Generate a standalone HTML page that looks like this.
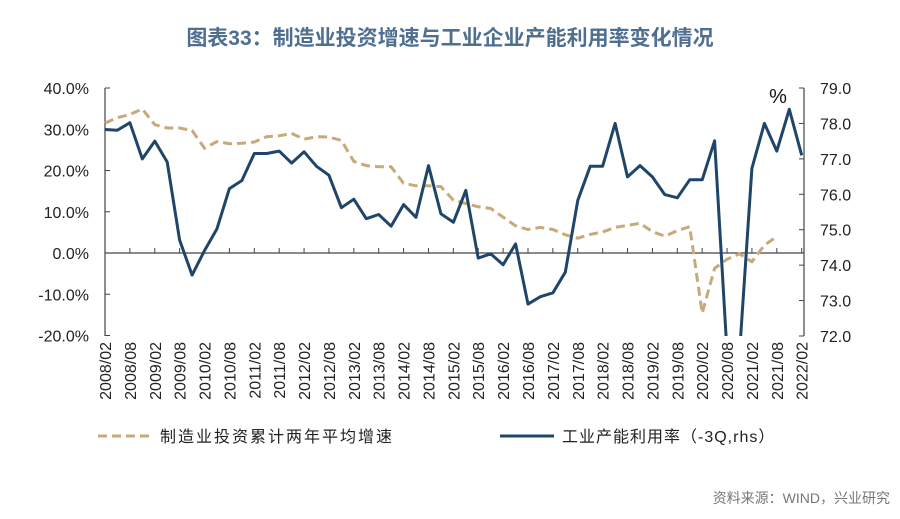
<!DOCTYPE html>
<html style="margin:0;padding:0;width:900px;height:519px;overflow:hidden"><head><meta charset="utf-8"><style>
body{margin:0;padding:0;background:#fff;width:900px;height:519px;overflow:hidden}
svg{display:block;font-family:"Liberation Sans","Noto Sans CJK SC",sans-serif}
</style></head><body>
<svg id="chart" width="900" height="519">
<text x="450" y="45" text-anchor="middle" font-size="21" font-weight="bold" fill="#4f6f90">图表33：制造业投资增速与工业企业产能利用率变化情况</text>
<g id="axes"></g>
<g id="series"></g>
<g>
<line x1="98" y1="436" x2="152" y2="436" stroke="#c8a97a" stroke-width="3" stroke-dasharray="9,5"/>
<text x="160" y="442" font-size="16" fill="#222" letter-spacing="2">制造业投资累计两年平均增速</text>
<line x1="500" y1="436" x2="554" y2="436" stroke="#1f4568" stroke-width="3"/>
<text x="562" y="442" font-size="16" fill="#222" letter-spacing="1">工业产能利用率（-3Q,rhs）</text>
</g>
<text x="778" y="103" font-size="20" fill="#111" text-anchor="middle">%</text>
<text x="890" y="503" font-size="14" fill="#777" text-anchor="end">资料来源：WIND，兴业研究</text>
</svg>
<script>
const xLabels = ["2008/02","2008/08","2009/02","2009/08","2010/02","2010/08","2011/02","2011/08","2012/02","2012/08","2013/02","2013/08","2014/02","2014/08","2015/02","2015/08","2016/02","2016/08","2017/02","2017/08","2018/02","2018/08","2019/02","2019/08","2020/02","2020/08","2021/02","2021/08","2022/02"];
const leftTicks = [40,30,20,10,0,-10,-20];
const rightTicks = [79,78,77,76,75,74,73,72];
const utilization = [77.83,77.81,78.02,77.0,77.5,76.91,74.71,73.72,74.41,75.03,76.16,76.39,77.15,77.15,77.22,76.88,77.2,76.79,76.54,75.62,75.86,75.31,75.43,75.1,75.71,75.35,76.81,75.45,75.21,76.11,74.2,74.32,74.01,74.6,72.9,73.11,73.22,73.8,75.83,76.79,76.79,78.0,76.49,76.81,76.49,75.99,75.9,76.41,76.41,77.51,64.3,71.4,76.73,78.0,77.22,78.4,77.1];
const investment = [31.5,32.8,33.6,34.9,31.1,30.3,30.3,29.7,25.4,27.0,26.5,26.6,26.9,28.2,28.4,29.0,27.6,28.2,28.1,27.3,22.2,21.2,20.9,20.9,16.9,16.3,16.3,16.1,12.8,12.0,11.2,10.8,8.7,6.6,5.7,6.2,5.7,4.4,3.6,4.5,5.1,6.2,6.7,7.2,5.2,4.1,5.4,6.4,-14.6,-3.7,-1.5,-0.2,-2.1,1.9,4.0];

const NS="http://www.w3.org/2000/svg";
const X0=105, X1=801.7, LX=105, RX=804, TOP=88, BOT=336;
const xq = i => X0 + i*(X1-X0)/56;
const yl = v => 253 - v*(253-88)/40;
const yr = v => 88 + (79-Math.max(v,71.5))*(336-88)/7;
function mk(tag, attrs, parent){const e=document.createElementNS(NS,tag);for(const k in attrs)e.setAttribute(k,attrs[k]);parent.appendChild(e);return e;}
const axes=document.getElementById('axes'), series=document.getElementById('series');
const svg=document.getElementById('chart');
const defs=mk('defs',{},svg);
const cp=mk('clipPath',{id:'plotclip'},defs);
mk('rect',{x:LX,y:TOP-5,width:RX-LX,height:BOT-TOP+5},cp);
let e=mk('line',{x1:LX,y1:TOP,x2:LX,y2:BOT,stroke:'#444','stroke-width':1.2},axes);


leftTicks.forEach(v=>{
  const t=mk('line',{x1:LX,y1:yl(v),x2:LX+5,y2:yl(v),stroke:'#444'},axes);
  
  
  const tx=mk('text',{x:LX-16,y:yl(v)+6,'text-anchor':'end','font-size':16,fill:'#222'},axes);
  tx.textContent=v.toFixed(1)+'%';
  
  
});
e=mk('line',{x1:RX,y1:TOP,x2:RX,y2:BOT,stroke:'#444','stroke-width':1.2},axes);


rightTicks.forEach(v=>{
  const t=mk('line',{x1:RX-5,y1:yr(v),x2:RX,y2:yr(v),stroke:'#444'},axes);
  
  
  const tx=mk('text',{x:RX+16,y:yr(v)+6,'font-size':16,fill:'#222'},axes);
  tx.textContent=v.toFixed(1);
  
  
});
e=mk('line',{x1:LX,y1:yl(0),x2:RX,y2:yl(0),stroke:'#444','stroke-width':1.2},axes);


xLabels.forEach((l,k)=>{
  const x=xq(k*2);
  const t=mk('line',{x1:x,y1:yl(0),x2:x,y2:yl(0)-5,stroke:'#444'},axes);
  
  
  const tx=mk('text',{x:0,y:0,'font-size':16,fill:'#222','text-anchor':'end',transform:`translate(${x+6},342) rotate(-90)`},axes);
  tx.textContent=l;
  
  
});
let p=mk('path',{d:investment.map((v,i)=>(i?'L':'M')+xq(i).toFixed(1)+','+yl(v).toFixed(1)).join(''),fill:'none',stroke:'#c8a97a','stroke-width':3,'stroke-dasharray':'9,5'},series);


p=mk('path',{d:utilization.map((v,i)=>(i?'L':'M')+xq(i).toFixed(1)+','+yr(v).toFixed(1)).join(''),fill:'none',stroke:'#1f4568','stroke-width':3,'stroke-linejoin':'round','clip-path':'url(#plotclip)'},series);


</script>
</body></html>
